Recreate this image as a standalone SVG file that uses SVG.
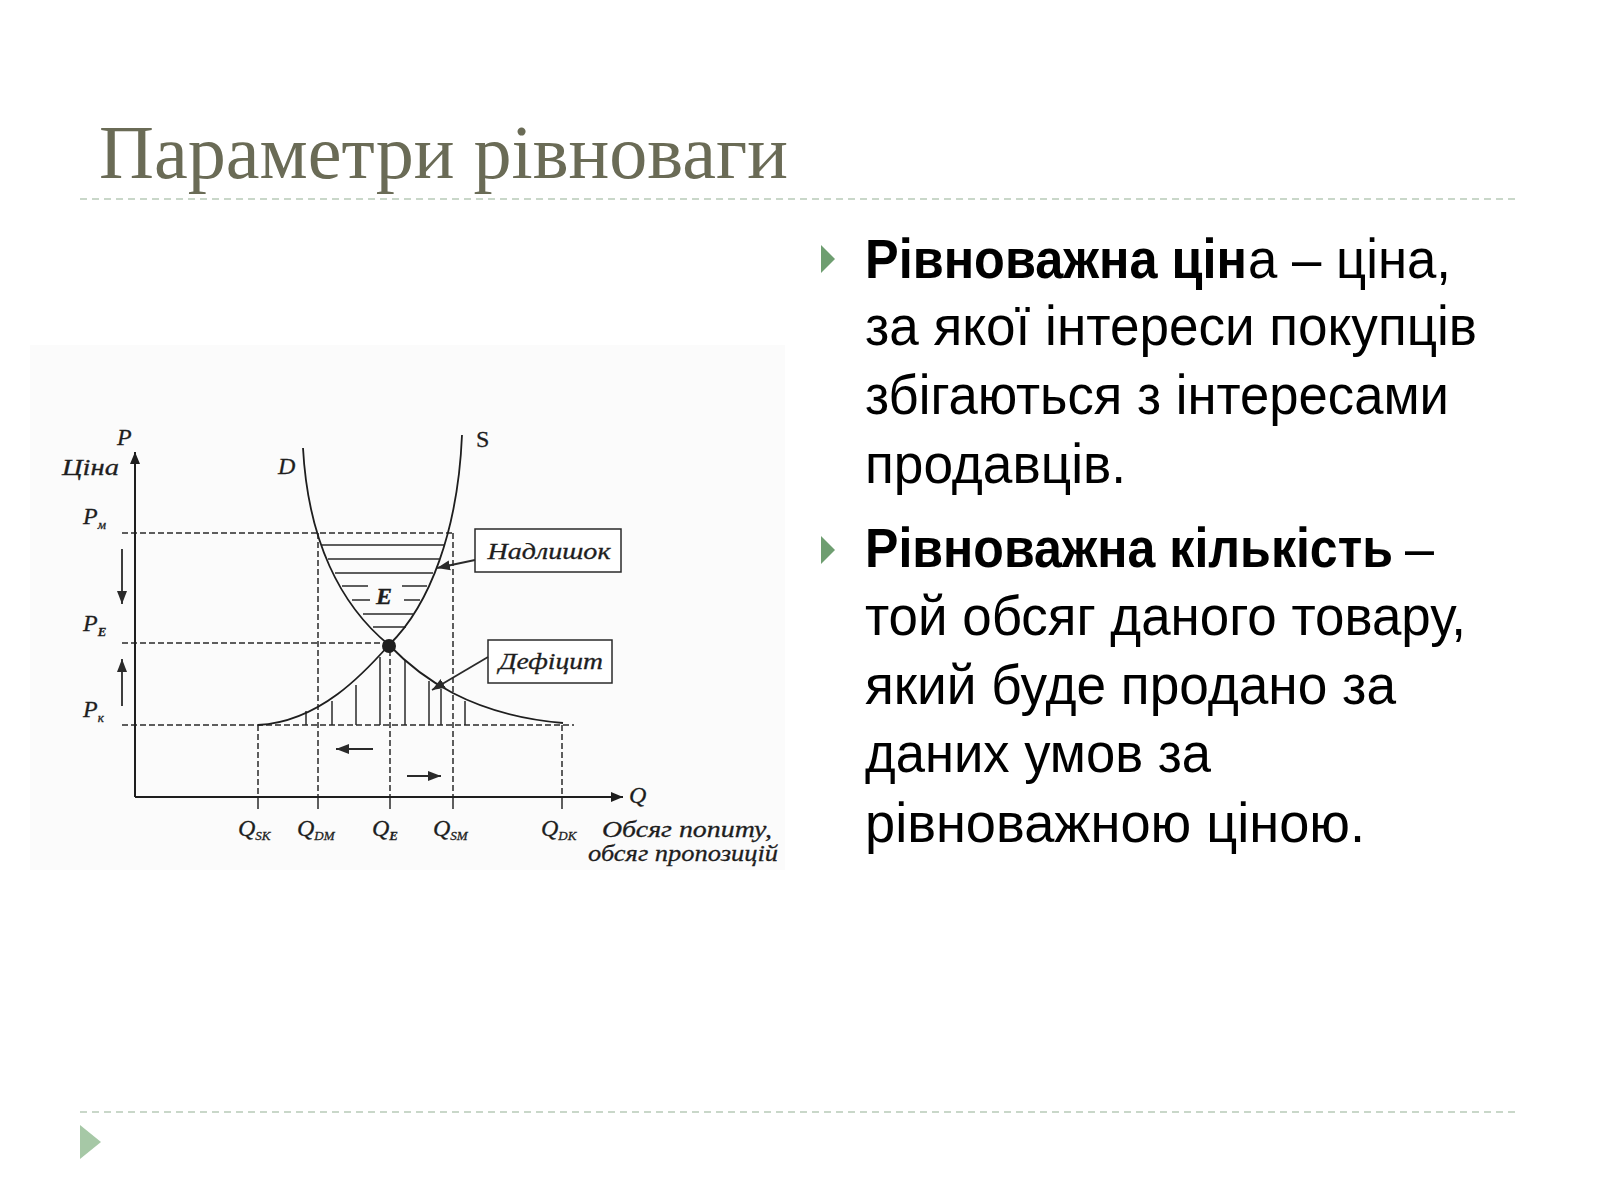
<svg xmlns="http://www.w3.org/2000/svg" width="1600" height="1200" viewBox="0 0 1600 1200">
<style>
.title{font-family:"Liberation Serif","DejaVu Serif",serif;font-size:77px;fill:#6a6b56}
.body{font-family:"Liberation Sans","Noto Sans",sans-serif;font-size:56px;fill:#000}
.b{font-weight:bold}
.sep{stroke:#b8cab8;stroke-width:1.6;stroke-dasharray:7,5;fill:none}
.lbl{font-family:"Liberation Serif","DejaVu Serif",serif;font-style:italic;font-size:24px;fill:#1e1e1e;stroke:#1e1e1e;stroke-width:0.3}
.sub{font-size:13px}
.ax{stroke:#1e1e1e;stroke-width:2;fill:none}
.crv{stroke:#1e1e1e;stroke-width:1.8;fill:none}
.dash{stroke:#2a2a2a;stroke-width:1.5;stroke-dasharray:6,3;fill:none}
.tick{stroke:#2a2a2a;stroke-width:1.5;fill:none}
.hat{stroke:#2a2a2a;stroke-width:1.5;fill:none}
.box{fill:#fff;stroke:#2a2a2a;stroke-width:1.5}
.arr{stroke:#2a2a2a;stroke-width:1.8;fill:none}
</style>
<defs>
<marker id="ah" markerUnits="userSpaceOnUse" markerWidth="14" markerHeight="10" refX="12" refY="5" orient="auto"><path d="M0,0 L12,5 L0,10 z" fill="#1e1e1e"/></marker>
<marker id="ahs" markerUnits="userSpaceOnUse" markerWidth="14" markerHeight="12" refX="13" refY="6" orient="auto"><path d="M0,1 L13,6 L0,11 z" fill="#2a2a2a"/></marker>
</defs>
<rect width="1600" height="1200" fill="#fff"/>

<g id="title"><text class="title" x="99" y="178" textLength="689" lengthAdjust="spacingAndGlyphs">Параметри рівноваги</text></g>
<g id="rules">
<line class="sep" x1="80" y1="199" x2="1515" y2="199"/>
<line class="sep" x1="80" y1="1112" x2="1515" y2="1112"/>
<polygon points="80,1125 101,1142 80,1159" fill="#a6c8a6"/>
</g>

<g id="bullets">
<polygon points="821,245 835,259 821,273" fill="#6e9e70"/>
<polygon points="821,536 835,550 821,564" fill="#6e9e70"/>
<text class="body b" x="865" y="278" textLength="382" lengthAdjust="spacingAndGlyphs">Рівноважна цін</text>
<text class="body" x="1248" y="278" textLength="203" lengthAdjust="spacingAndGlyphs">а – ціна,</text>
<text class="body" x="865" y="345" textLength="612" lengthAdjust="spacingAndGlyphs">за якої інтереси покупців</text>
<text class="body" x="865" y="414" textLength="584" lengthAdjust="spacingAndGlyphs">збігаються з інтересами</text>
<text class="body" x="865" y="483" textLength="261" lengthAdjust="spacingAndGlyphs">продавців.</text>
<text class="body b" x="865" y="567" textLength="528" lengthAdjust="spacingAndGlyphs">Рівноважна кількість</text>
<text class="body" x="1405" y="567" textLength="29" lengthAdjust="spacingAndGlyphs">–</text>
<text class="body" x="865" y="635" textLength="601" lengthAdjust="spacingAndGlyphs">той обсяг даного товару,</text>
<text class="body" x="865" y="704" textLength="531" lengthAdjust="spacingAndGlyphs">який буде продано за</text>
<text class="body" x="865" y="772" textLength="346" lengthAdjust="spacingAndGlyphs">даних умов за</text>
<text class="body" x="865" y="842" textLength="500" lengthAdjust="spacingAndGlyphs">рівноважною ціною.</text>
</g>

<g id="chart">
<rect x="30" y="345" width="755" height="525" fill="#fbfbfb"/>
<g id="guides">
<line class="dash" x1="122" y1="533" x2="453" y2="533"/>
<line class="dash" x1="122" y1="643" x2="384" y2="643"/>
<line class="dash" x1="122" y1="725" x2="574" y2="725"/>
<line class="dash" x1="318" y1="533" x2="318" y2="797"/>
<line class="dash" x1="390" y1="650" x2="390" y2="797"/>
<line class="dash" x1="453" y1="533" x2="453" y2="797"/>
<line class="dash" x1="258" y1="725" x2="258" y2="797"/>
<line class="dash" x1="562" y1="725" x2="562" y2="797"/>
<line class="tick" x1="258" y1="797" x2="258" y2="809"/>
<line class="tick" x1="318" y1="797" x2="318" y2="809"/>
<line class="tick" x1="390" y1="797" x2="390" y2="809"/>
<line class="tick" x1="453" y1="797" x2="453" y2="809"/>
<line class="tick" x1="562" y1="797" x2="562" y2="809"/>
</g>
<g id="hatch">
<line class="hat" x1="322" y1="545" x2="445" y2="545"/>
<line class="hat" x1="328" y1="559" x2="439" y2="559"/>
<line class="hat" x1="335" y1="573" x2="433" y2="573"/>
<line class="hat" x1="342" y1="586" x2="368" y2="586"/>
<line class="hat" x1="402" y1="586" x2="427" y2="586"/>
<line class="hat" x1="352" y1="600" x2="370" y2="600"/>
<line class="hat" x1="404" y1="600" x2="420" y2="600"/>
<line class="hat" x1="363" y1="614" x2="413" y2="614"/>
<line class="hat" x1="373" y1="627" x2="406" y2="627"/>
<line class="hat" x1="306" y1="711" x2="306" y2="725"/>
<line class="hat" x1="332" y1="701" x2="332" y2="725"/>
<line class="hat" x1="356" y1="685" x2="356" y2="725"/>
<line class="hat" x1="380" y1="657" x2="380" y2="725"/>
<line class="hat" x1="405" y1="660" x2="405" y2="725"/>
<line class="hat" x1="429" y1="681" x2="429" y2="725"/>
<line class="hat" x1="441" y1="689" x2="441" y2="725"/>
<line class="hat" x1="465" y1="701" x2="465" y2="725"/>
</g>
<g id="curve-D"><path class="crv" d="M303,448 C308,540 340,605 389,645 C420,677 470,715 563,723"/></g>
<g id="curve-S"><path class="crv" d="M462,435 C458,530 430,605 389,645 C365,672 320,722 258,725"/></g>
<g id="point-E"><circle cx="389" cy="646" r="7" fill="#1e1e1e"/></g>

<text class="lbl" x="117" y="445">P</text>
<text class="lbl" x="62" y="475" textLength="57" lengthAdjust="spacingAndGlyphs">Ціна</text>
<text class="lbl" x="278" y="474">D</text>
<text class="lbl" x="476" y="447" style="font-style:normal">S</text>
<text class="lbl" x="376" y="604" font-weight="bold" font-size="27">E</text>
<text class="lbl" x="83" y="524">P<tspan class="sub" dy="5">м</tspan></text>
<text class="lbl" x="83" y="631">P<tspan class="sub" dy="5" font-weight="bold">E</tspan></text>
<text class="lbl" x="83" y="717">P<tspan class="sub" dy="5">к</tspan></text>
<text class="lbl" x="629" y="803" font-size="26">Q</text>
<text class="lbl" x="238" y="836" font-size="26">Q<tspan class="sub" dy="4">SK</tspan></text>
<text class="lbl" x="297" y="836" font-size="26">Q<tspan class="sub" dy="4">DM</tspan></text>
<text class="lbl" x="372" y="836" font-size="26">Q<tspan class="sub" dy="4" font-weight="bold">E</tspan></text>
<text class="lbl" x="433" y="836" font-size="26">Q<tspan class="sub" dy="4">SM</tspan></text>
<text class="lbl" x="541" y="836" font-size="26">Q<tspan class="sub" dy="4">DK</tspan></text>
<text class="lbl" x="602" y="837" font-size="22" textLength="170" lengthAdjust="spacingAndGlyphs">Обсяг попиту,</text>
<text class="lbl" x="588" y="861" font-size="22" textLength="190" lengthAdjust="spacingAndGlyphs">обсяг пропозицій</text>

<g id="node-nadlyshok">
<rect class="box" x="475" y="529" width="146" height="43"/>
<text class="lbl" x="549" y="559" text-anchor="middle" textLength="123" lengthAdjust="spacingAndGlyphs">Надлишок</text>
</g>
<g id="node-deficit">
<rect class="box" x="488" y="640" width="124" height="43"/>
<text class="lbl" x="551" y="669" text-anchor="middle" textLength="104" lengthAdjust="spacingAndGlyphs">Дефіцит</text>
</g>
</g>

<g id="connectors">
<line class="ax" x1="135" y1="797" x2="135" y2="452" marker-end="url(#ah)"/>
<line class="ax" x1="135" y1="797" x2="623" y2="797" marker-end="url(#ah)"/>
<line class="arr" x1="122" y1="549" x2="122" y2="604" marker-end="url(#ahs)"/>
<line class="arr" x1="122" y1="706" x2="122" y2="659" marker-end="url(#ahs)"/>
<line class="arr" x1="373" y1="749" x2="336" y2="749" marker-end="url(#ahs)"/>
<line class="arr" x1="407" y1="776" x2="441" y2="776" stroke="#555" marker-end="url(#ahs)"/>
<line class="arr" x1="475" y1="560" x2="437" y2="568" stroke-width="1.5" marker-end="url(#ahs)"/>
<line class="arr" x1="488" y1="657" x2="432" y2="690" stroke-width="1.5" marker-end="url(#ahs)"/>
</g>
</svg>
